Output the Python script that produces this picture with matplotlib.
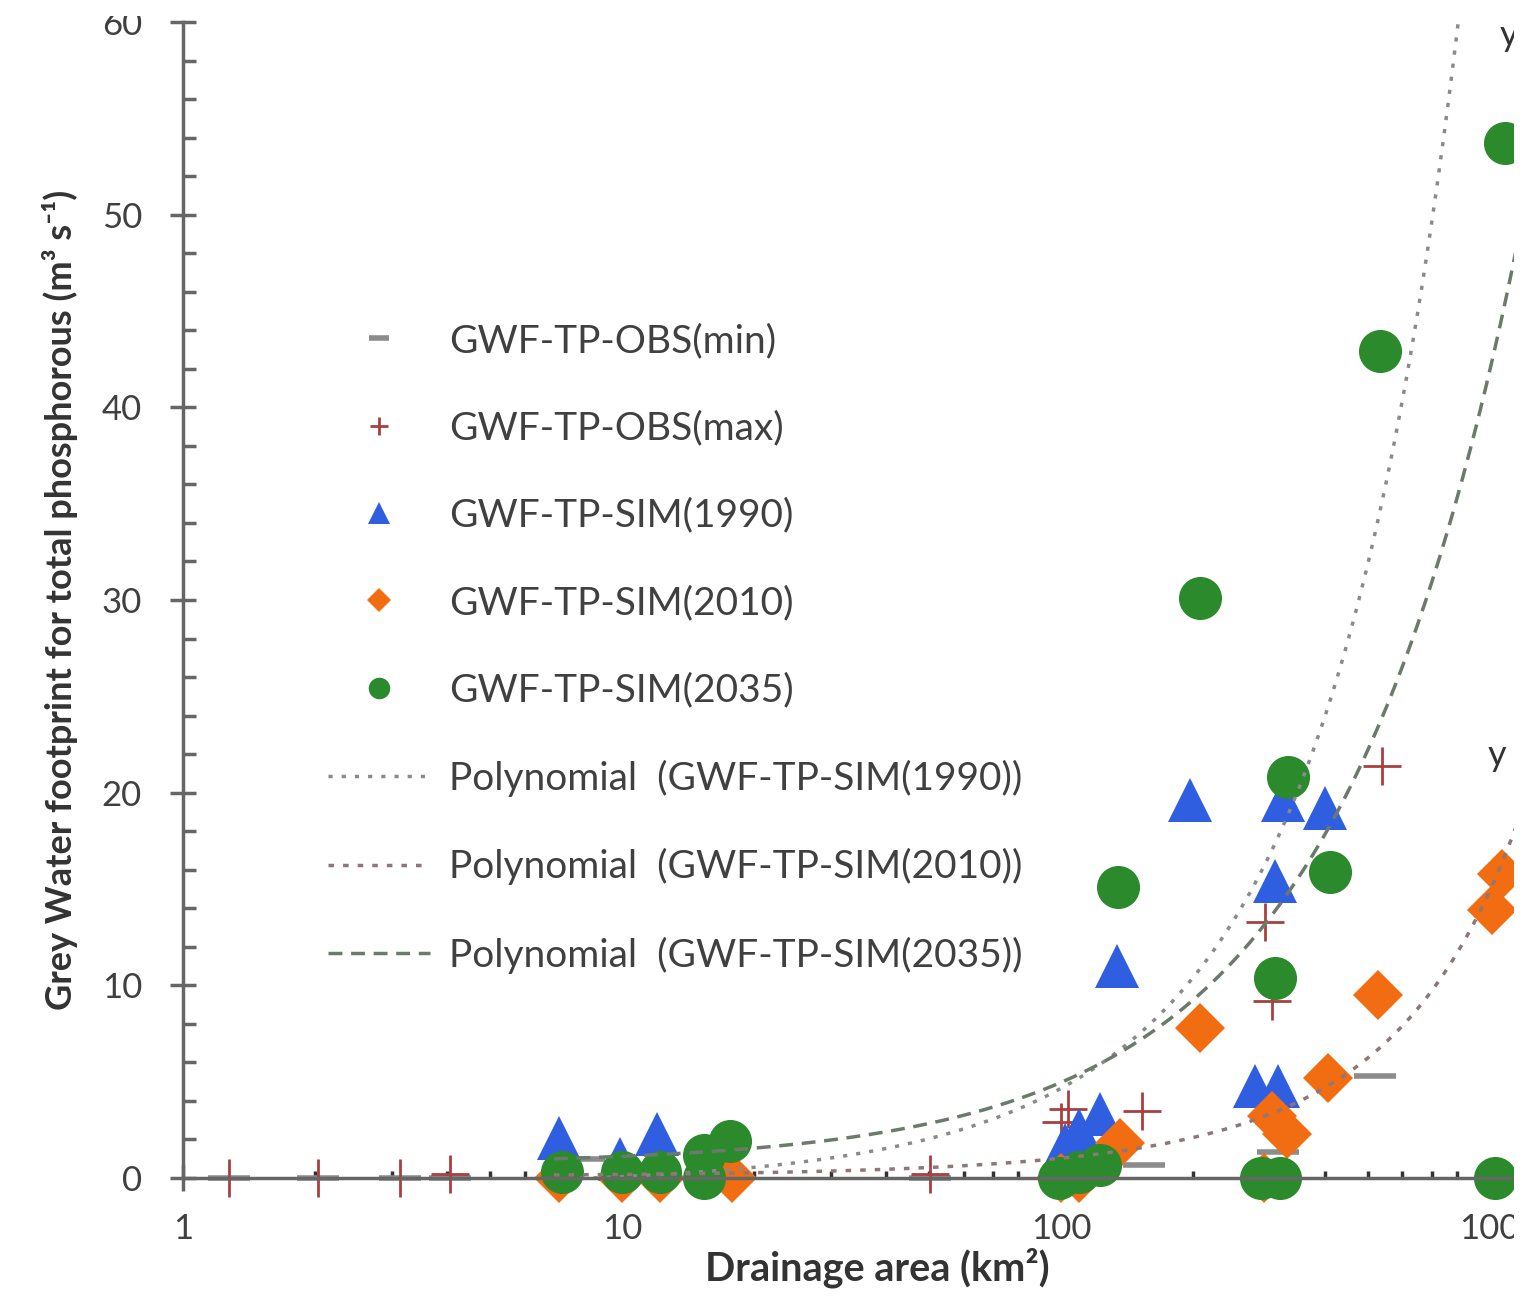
import numpy as np
import matplotlib.pyplot as plt
from matplotlib.patches import Rectangle
from matplotlib.ticker import FixedLocator, NullFormatter, LogLocator, MultipleLocator

plt.rcParams['font.family'] = ['Lato', 'DejaVu Sans']

# drainage area (km2) and grey water footprint (m3/s)
obs_min_x = [1.27, 2.03, 3.12, 4.06, 8.2, 50.3, 155, 312, 519]
obs_min_y = [0.0, 0.0, 0.0, 0.0, 1.0, 0.0, 0.7, 1.35, 5.3]

obs_max_x = [1.27, 2.03, 3.12, 4.06, 50.3, 100, 104, 153, 292, 302, 539]
obs_max_y = [0.0, 0.0, 0.0, 0.2, 0.2, 2.9, 3.6, 3.5, 13.3, 9.2, 21.4]

sim1990_x = [7.2, 9.9, 12.0, 102, 110, 123, 134, 197, 277, 307, 312, 320, 399]
sim1990_y = [2.1, 1.0, 2.3, 1.7, 2.5, 3.3, 11.0, 19.6, 4.8, 15.4, 4.8, 19.6, 19.2]

sim2010_x = [7.2, 10.0, 12.2, 17.8, 100, 110, 136, 207, 290, 302, 327, 406, 527, 960, 1012]
sim2010_y = [0.0, 0.0, 0.0, 0.0, 0.0, 0.0, 1.8, 7.8, 0.0, 3.2, 2.3, 5.2, 9.5, 13.9, 15.8]

sim2035_x = [7.3, 10.0, 12.2, 15.4, 15.4, 17.6, 99, 110, 123, 135, 207, 286, 307, 316, 329, 410, 533, 975, 1026]
sim2035_y = [0.3, 0.3, 0.3, 0.0, 1.2, 1.9, 0.0, 0.3, 0.7, 15.1, 30.1, 0.0, 10.4, 0.0, 20.8, 15.9, 42.9, 0.0, 53.7]

# polynomial trendline coefficients (a*x^2 + b*x + c), estimated from the curves
poly1990 = [3.5e-5, 0.047, -0.4]
poly2010 = [7.5e-6, 0.0085, 0.1]
poly2035 = [1e-6, 0.0425, 0.7]

fig = plt.figure(figsize=(15.38, 12.97), dpi=100)
fig.patch.set_facecolor('white')
ax = fig.add_axes([183 / 1538, 1 - 1178 / 1297, 1449 / 1538, (1178 - 22) / 1297])

axis_col = '#666666'
text_col = '#404040'

ax.plot(obs_min_x, obs_min_y, linestyle='none', marker='_', markersize=30,
        markeredgewidth=4, color='#8c8c8c', clip_on=False, label='GWF-TP-OBS(min)')
ax.plot(obs_max_x, obs_max_y, linestyle='none', marker='+', markersize=27,
        markeredgewidth=2, color='#a8403f', clip_on=False, label='GWF-TP-OBS(max)')
ax.plot(sim1990_x, sim1990_y, linestyle='none', marker='^', markersize=31,
        color='#2f5ee0', markeredgewidth=0, clip_on=False, label='GWF-TP-SIM(1990)')
ax.plot(sim2010_x, sim2010_y, linestyle='none', marker='D', markersize=25,
        color='#f26c12', markeredgewidth=0, clip_on=False, label='GWF-TP-SIM(2010)')
ax.plot(sim2035_x, sim2035_y, linestyle='none', marker='o', markersize=31,
        color='#2b8a2b', markeredgewidth=0, clip_on=False, label='GWF-TP-SIM(2035)')

xs = np.logspace(np.log10(7), np.log10(1400), 400)
ax.plot(xs, np.polyval(poly1990, xs), color='#8a8a8a', lw=2.5,
        dashes=(1.2, 2.6), label='Polynomial  (GWF-TP-SIM(1990))')
ax.plot(xs, np.polyval(poly2010, xs), color='#8e7777', lw=2.5,
        dashes=(1.6, 2.6), label='Polynomial  (GWF-TP-SIM(2010))')
ax.plot(xs, np.polyval(poly2035, xs), color='#6c7a6c', lw=2.5,
        dashes=(4, 2.5), label='Polynomial  (GWF-TP-SIM(2035))')

ax.set_xscale('log')
ax.set_xlim(1, 2000)
ax.set_ylim(0, 60)

for s in ['top', 'right']:
    ax.spines[s].set_visible(False)
for s in ['left', 'bottom']:
    ax.spines[s].set_color(axis_col)
    ax.spines[s].set_linewidth(2.5)

ax.xaxis.set_major_locator(FixedLocator([1, 10, 100, 1000]))
ax.set_xticklabels(['1', '10', '100', '1000'])
ax.xaxis.set_minor_locator(LogLocator(base=10, subs=np.arange(2, 10)))
ax.xaxis.set_minor_formatter(NullFormatter())
ax.yaxis.set_major_locator(MultipleLocator(10))
ax.yaxis.set_minor_locator(MultipleLocator(2))

ax.tick_params(axis='both', which='major', direction='inout', length=19, width=2.5,
               color=axis_col, labelsize=25, labelcolor=text_col)
ax.tick_params(axis='y', which='major', pad=20)
ax.tick_params(axis='x', which='major', pad=16)
ax.tick_params(axis='y', which='minor', direction='in', length=9, width=2.5, color=axis_col)
ax.tick_params(axis='x', which='minor', direction='in', length=5, width=2.5, color='#333333')

ax.set_xlabel('Drainage area (km²)', fontsize=28.5, fontweight='bold', color='#333333', va='center')
ax.xaxis.set_label_coords((877 - 183) / 1449, (1178 - 1268) / 1156)
ax.set_ylabel('Grey Water footprint for total phosphorous (m³ s⁻¹)', fontsize=26,
              fontweight='bold', color='#333333', va='center')
ax.yaxis.set_label_coords((60 - 183) / 1449, 0.5)

leg = ax.legend(loc='upper left', bbox_to_anchor=(328 / 1538, 1 - 323 / 1297),
                bbox_transform=fig.transFigure, frameon=False, fontsize=28,
                labelcolor=text_col, markerscale=0.5, handlelength=2.62,
                handletextpad=0.5, labelspacing=1.32, borderpad=0, borderaxespad=0)

# start of the cropped trendline equations at the right edge
fig.text(1488 / 1538, 1 - 755 / 1297, 'y', fontsize=26, color='#333333', va='center')
fig.text(1500 / 1538, 1 - 36 / 1297, 'y', fontsize=26, color='#333333', va='center')

# the source picture is cropped at the right and top edges
fig.patches.append(Rectangle((1514 / 1538, 0), 1, 1, transform=fig.transFigure,
                             facecolor='white', edgecolor='none', zorder=10))
fig.patches.append(Rectangle((0, 1 - 16 / 1297), 1, 1, transform=fig.transFigure,
                             facecolor='white', edgecolor='none', zorder=10))

fig.savefig('out.png', dpi=100, facecolor='white')
